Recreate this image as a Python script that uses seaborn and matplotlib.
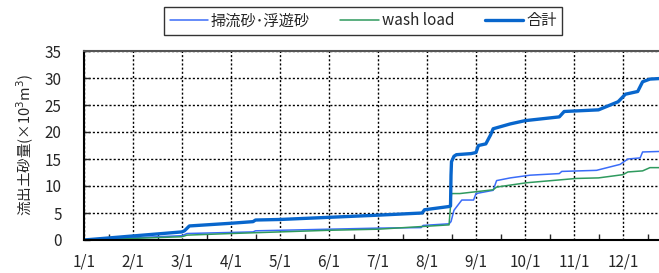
import numpy as np
import pandas as pd
import matplotlib
matplotlib.use("Agg")
import matplotlib.pyplot as plt
from matplotlib.ticker import MultipleLocator
import seaborn as sns

# x は月単位（0 = 1/1, 1 = 2/1, ...）
month_labels = ["1/1", "2/1", "3/1", "4/1", "5/1", "6/1",
                "7/1", "8/1", "9/1", "10/1", "11/1", "12/1"]

# 合計
total_x = [0, 1, 2, 2.05, 2.15, 3, 3.45, 3.5, 4, 5, 6, 6.9, 6.95, 7.45, 7.48,
           7.49, 7.5, 7.55, 7.6, 7.9, 8.0, 8.05, 8.2, 8.3, 8.35, 8.7, 9, 9.7,
           9.8, 10.5, 10.9, 11.05, 11.3, 11.4, 11.55, 11.75]
total_y = [0, 0.75, 1.5, 1.7, 2.6, 3.1, 3.4, 3.7, 3.8, 4.2, 4.6, 5.0, 5.6, 6.2, 6.3,
           12.0, 14.5, 15.5, 15.8, 16.0, 16.2, 17.5, 17.8, 19.5, 20.6, 21.5, 22.1, 22.8,
           23.8, 24.1, 25.6, 27.0, 27.5, 29.3, 29.8, 29.9]

# 掃流砂・浮遊砂
bed_x = [0, 2, 2.1, 3, 3.45, 3.5, 4, 5, 6, 6.88, 6.92, 7.45, 7.49, 7.55, 7.71,
         7.95, 8.0, 8.35, 8.42, 8.7, 9.1, 9.7, 9.75, 10.46, 10.94, 11.1, 11.35,
         11.4, 11.75]
bed_y = [0, 0.8, 1.2, 1.4, 1.5, 1.7, 1.8, 2.0, 2.2, 2.3, 2.7, 3.0, 3.4, 5.5, 7.4,
         7.4, 8.6, 9.2, 11.0, 11.5, 12.0, 12.3, 12.7, 12.9, 14.0, 15.0, 15.2,
         16.3, 16.4]

# wash load
wash_x = [0, 2, 2.1, 3, 4, 5, 6, 7.45, 7.5, 7.67, 8.35, 8.42, 9.03, 10.05,
          10.5, 11.0, 11.1, 11.4, 11.55, 11.75]
wash_y = [0, 0.6, 0.9, 1.2, 1.5, 1.8, 2.0, 2.8, 8.6, 8.6, 9.3, 9.8, 10.6, 11.4,
          11.5, 12.1, 12.6, 12.8, 13.4, 13.4]

y_ticks = [0, 5, 10, 15, 20, 25, 30, 35]

sns.set_style("white")
plt.rcParams["font.family"] = ["Noto Sans CJK JP", "DejaVu Sans"]

fig = plt.figure(figsize=(6.59, 2.73), dpi=100)
ax = fig.add_axes([84 / 659, 33 / 273, 588 / 659, 189 / 273])

sns.lineplot(x=bed_x, y=bed_y, ax=ax, color="#3A6CF8", lw=1.1, label="掃流砂･浮遊砂")
sns.lineplot(x=wash_x, y=wash_y, ax=ax, color="#2F9A5E", lw=1.1, label="wash load")
sns.lineplot(x=total_x, y=total_y, ax=ax, color="#0866CC", lw=2.4, label="合計")

ax.set_xlim(0, 12)
ax.set_ylim(0, 35)
ax.set_xticks(range(12))
ax.set_xticklabels(month_labels)
ax.set_yticks(y_ticks)
ax.xaxis.set_minor_locator(MultipleLocator(0.5))
ax.tick_params(axis="x", which="major", direction="in", length=0, pad=10, labelsize=11)
ax.tick_params(axis="x", which="minor", direction="in", length=4, width=1, bottom=True)
ax.tick_params(axis="y", which="major", direction="in", length=4, width=1, left=True,
               pad=16, labelsize=11)
for s in ["left", "bottom"]:
    ax.spines[s].set_color("black")
    ax.spines[s].set_linewidth(1.5)
ax.spines["top"].set_color("#555555")
ax.spines["top"].set_linewidth(1.5)
ax.spines["right"].set_visible(False)

ax.set_ylabel("流出土砂量(×10$^3$m$^3$)", fontsize=10.5, labelpad=6)

leg = ax.legend(loc="center", bbox_to_anchor=(363 / 659, 252 / 273),
                bbox_transform=fig.transFigure, ncol=3, frameon=True,
                fancybox=False, edgecolor="black", fontsize=11,
                handlelength=2.5, handletextpad=0.2, columnspacing=2.0,
                borderpad=0.35)
leg.get_frame().set_linewidth(1.0)

# 点線グリッド
ax.set_axisbelow(True)
ax.grid(True, which="major", axis="both", color="black", linestyle=(0, (1.5, 1.5)),
        linewidth=1.0)

fig.savefig("out.png", dpi=100)
